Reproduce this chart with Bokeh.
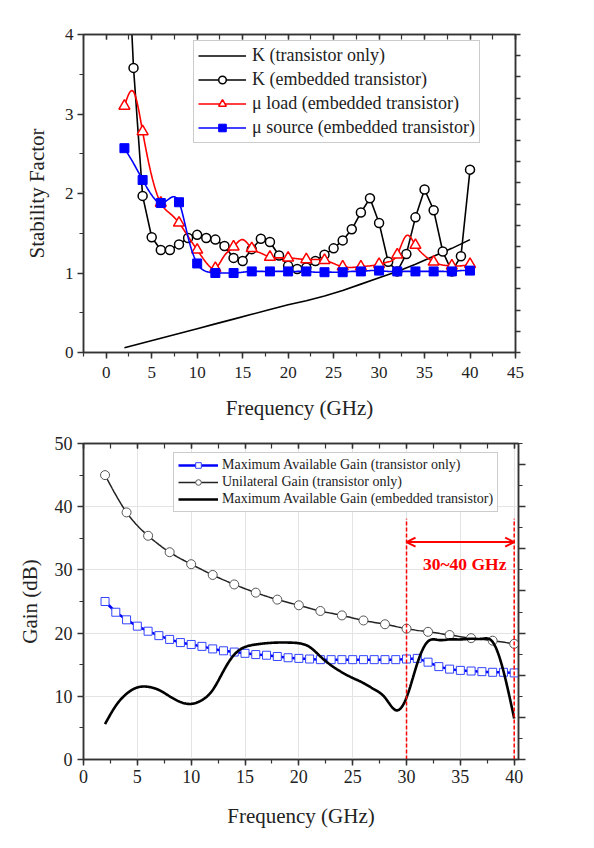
import numpy as np
from bokeh.plotting import figure
from bokeh.layouts import column
from bokeh.models import (Range1d, LinearAxis, SingleIntervalTicker, Legend, LegendItem,
                          Arrow, OpenHead, CustomJSTickFormatter)
from bokeh.core.properties import value
from bokeh.embed import file_html
from bokeh.resources import INLINE

# ---------------- data: top chart (stability factors) ----------------
freq_1ghz = list(range(2, 41))            # 2..40 GHz, 1 GHz step
k_transistor_freq = list(range(2, 41, 2))
k_transistor = [0.06, 0.12, 0.18, 0.24, 0.30, 0.36, 0.42, 0.48, 0.54, 0.60,
                0.65, 0.71, 0.78, 0.86, 0.94, 1.02, 1.11, 1.21, 1.31, 1.42]
k_embedded = [6.0, 3.58, 1.97, 1.45, 1.29, 1.29, 1.36, 1.44, 1.48, 1.44,
              1.42, 1.34, 1.19, 1.15, 1.30, 1.43, 1.39, 1.22, 1.09, 1.05,
              1.07, 1.15, 1.23, 1.31, 1.41, 1.55, 1.76, 1.94, 1.63, 1.14,
              1.02, 1.24, 1.70, 2.05, 1.79, 1.27, 1.02, 1.21, 2.30]
mu_load = [3.10, 3.28, 2.78, 2.22, 1.88, 1.75, 1.63, 1.46, 1.29, 1.13,
           1.06, 1.22, 1.33, 1.42, 1.31, 1.25, 1.20, 1.19, 1.19, 1.18,
           1.17, 1.17, 1.16, 1.12, 1.08, 1.07, 1.08, 1.09, 1.11, 1.14,
           1.23, 1.47, 1.35, 1.22, 1.14, 1.10, 1.09, 1.09, 1.11]
mu_source = [2.57, 2.38, 2.17, 1.98, 1.88, 1.94, 1.89, 1.45, 1.12, 1.02,
             1.00, 1.00, 1.00, 1.01, 1.02, 1.02, 1.02, 1.02, 1.02, 1.02,
             1.02, 1.01, 1.01, 1.01, 1.01, 1.02, 1.02, 1.03, 1.03, 1.02,
             1.02, 1.02, 1.02, 1.02, 1.02, 1.02, 1.02, 1.03, 1.03]

# ---------------- data: bottom chart (gains) ----------------
ug_freq = list(range(2, 41, 2))
unilateral_gain = [45.0, 39.1, 35.4, 32.8, 30.9, 29.2, 27.7, 26.4, 25.3, 24.4,
                   23.5, 22.8, 22.0, 21.4, 20.7, 20.2, 19.7, 19.2, 18.8, 18.3]
mag_transistor = [25.0, 23.3, 22.1, 21.1, 20.3, 19.6, 19.0, 18.5, 18.2, 17.9,
                  17.5, 17.2, 17.0, 16.8, 16.6, 16.5, 16.3, 16.1, 16.0, 15.9,
                  15.8, 15.8, 15.8, 15.8, 15.8, 15.8, 15.8, 15.8, 15.9, 16.0,
                  15.4, 14.7, 14.3, 14.1, 14.0, 13.9, 13.8, 13.8, 13.7]
mag_embedded = [5.6, 8.5, 10.4, 11.4, 11.5, 11.0, 10.0, 9.1, 8.8, 9.4,
                11.0, 14.0, 16.6, 17.8, 18.2, 18.4, 18.5, 18.5, 18.4, 17.8,
                16.3, 14.9, 13.8, 12.9, 12.1, 11.1, 9.8, 7.8, 9.8, 15.2,
                18.7, 18.9, 19.0, 19.0, 19.1, 19.1, 18.6, 14.0, 6.5]
band = [30, 40]
band_top = 38.1
arrow_level = 34.4
band_label = "30~40 GHz"
band_label_pos = (35.4, 30.9)

FONT = "Liberation Serif"
AX = "#333333"


def smooth(x, y, n=12):
    """Natural cubic spline used only to draw a smooth connecting line."""
    x = np.asarray(x, float)
    y = np.asarray(y, float)
    N = len(x)
    h = np.diff(x)
    A = np.zeros((N, N))
    b = np.zeros(N)
    A[0, 0] = 1
    A[-1, -1] = 1
    for i in range(1, N - 1):
        A[i, i - 1] = h[i - 1]
        A[i, i] = 2 * (h[i - 1] + h[i])
        A[i, i + 1] = h[i]
        b[i] = 6 * ((y[i + 1] - y[i]) / h[i] - (y[i] - y[i - 1]) / h[i - 1])
    M = np.linalg.solve(A, b)
    xs, ys = [], []
    for i in range(N - 1):
        t = np.linspace(x[i], x[i + 1], n, endpoint=(i == N - 2))
        a = x[i + 1] - t
        c = t - x[i]
        s = (M[i] * a ** 3 / (6 * h[i]) + M[i + 1] * c ** 3 / (6 * h[i])
             + (y[i] / h[i] - M[i] * h[i] / 6) * a
             + (y[i + 1] / h[i] - M[i + 1] * h[i] / 6) * c)
        xs.extend(t.tolist())
        ys.extend(s.tolist())
    return xs, ys


def style_axis(ax, size="17px"):
    ax.axis_line_color = AX
    ax.axis_line_width = 1.5
    ax.major_tick_line_color = AX
    ax.minor_tick_line_color = AX
    ax.major_tick_line_width = 1.5
    ax.minor_tick_line_width = 1.2
    ax.major_label_text_font = FONT
    ax.major_label_text_font_size = size
    ax.major_label_text_color = "#222222"
    ax.axis_label_text_font = FONT
    ax.axis_label_text_font_style = "normal"
    ax.axis_label_text_font_size = "21px"
    ax.axis_label_text_color = "#222222"


def blank_axis(ax):
    ax.formatter = CustomJSTickFormatter(code="return ''")
    ax.major_label_standoff = 0
    ax.axis_label = None


# ====================== TOP CHART ======================
p1 = figure(x_range=Range1d(-2.5, 45), y_range=Range1d(0, 4),
            frame_width=432, frame_height=318,
            min_border_left=82, min_border_top=34, min_border_right=76, min_border_bottom=71,
            output_backend="svg", toolbar_location=None,
            outline_line_color=AX, outline_line_width=1.5)
p1.grid.visible = False
p1.xaxis.ticker = SingleIntervalTicker(interval=5, num_minor_ticks=2)
p1.yaxis.ticker = SingleIntervalTicker(interval=1, num_minor_ticks=2)
for ax in (p1.xaxis[0], p1.yaxis[0]):
    style_axis(ax, "17px")
    ax.major_tick_in = 0
    ax.major_tick_out = 6
    ax.minor_tick_in = 0
    ax.minor_tick_out = 4
p1.xaxis.axis_label = "Frequency (GHz)"
p1.yaxis.axis_label = "Stability Factor"
p1.xaxis.major_label_standoff = 8
p1.xaxis.axis_label_standoff = 15
p1.yaxis.major_label_standoff = 4
p1.yaxis.axis_label_standoff = 13

top_ax = LinearAxis(ticker=SingleIntervalTicker(interval=5, num_minor_ticks=2))
style_axis(top_ax)
blank_axis(top_ax)
top_ax.major_tick_in = 5
top_ax.major_tick_out = 0
top_ax.minor_tick_in = 5
top_ax.minor_tick_out = 0
p1.add_layout(top_ax, "above")

p1.extra_y_ranges = {"r": Range1d(0, 7.5)}
right_ax = LinearAxis(y_range_name="r", ticker=SingleIntervalTicker(interval=0.5, num_minor_ticks=0))
style_axis(right_ax)
blank_axis(right_ax)
right_ax.major_tick_in = 0
right_ax.major_tick_out = 5
p1.add_layout(right_ax, "right")

r_kt = p1.line(k_transistor_freq, k_transistor, line_color="black", line_width=1.6)

r_ke_l = p1.line(freq_1ghz, k_embedded, line_color="black", line_width=1.6)
r_ke_m = p1.scatter(freq_1ghz, k_embedded, marker="circle", size=9,
                    fill_color="white", line_color="black", line_width=1.5)

sx, sy = smooth(freq_1ghz, mu_load)
r_ml_l = p1.line(sx, sy, line_color="#ff0000", line_width=1.6)
r_ml_m = p1.scatter(freq_1ghz[::2], mu_load[::2], marker="triangle", size=11,
                    fill_color="white", line_color="#ff0000", line_width=1.5)

sx, sy = smooth(freq_1ghz, mu_source)
r_ms_l = p1.line(sx, sy, line_color="#0000ff", line_width=1.6)
r_ms_m = p1.scatter(freq_1ghz[::2], mu_source[::2], marker="square", size=9,
                    fill_color="#0000ff", line_color="#0000ff", line_width=1)

leg1 = Legend(items=[
    LegendItem(label="K (transistor only)", renderers=[r_kt]),
    LegendItem(label="K (embedded transistor)", renderers=[r_ke_l, r_ke_m]),
    LegendItem(label="\u03bc load (embedded transistor)", renderers=[r_ml_l, r_ml_m]),
    LegendItem(label="\u03bc source (embedded transistor)", renderers=[r_ms_l, r_ms_m]),
], location=(110, 209))
leg1.label_text_font = FONT
leg1.label_text_font_size = "18px"
leg1.label_text_color = "#222222"
leg1.glyph_width = 48
leg1.glyph_height = 19
leg1.label_height = 19
leg1.spacing = 3
leg1.padding = 4
leg1.margin = 0
leg1.label_standoff = 6
leg1.border_line_color = "#999999"
leg1.border_line_width = 1.2
p1.add_layout(leg1)

# ====================== BOTTOM CHART ======================
p2 = figure(x_range=Range1d(0, 40.4), y_range=Range1d(0, 50),
            frame_width=435, frame_height=316,
            min_border_left=83, min_border_top=20, min_border_right=70, min_border_bottom=85,
            output_backend="svg", toolbar_location=None,
            outline_line_color=AX, outline_line_width=1.5)
p2.xaxis.ticker = SingleIntervalTicker(interval=5, num_minor_ticks=2)
p2.yaxis.ticker = SingleIntervalTicker(interval=10, num_minor_ticks=2)
p2.xgrid.ticker = SingleIntervalTicker(interval=5)
p2.ygrid.ticker = SingleIntervalTicker(interval=10)
p2.grid.grid_line_color = "#e4e4e4"
p2.grid.grid_line_width = 1
for ax in (p2.xaxis[0], p2.yaxis[0]):
    style_axis(ax, "18px")
    ax.major_tick_in = 0
    ax.major_tick_out = 6
    ax.minor_tick_in = 0
    ax.minor_tick_out = 4
p2.xaxis.axis_label = "Frequency (GHz)"
p2.yaxis.axis_label = "Gain (dB)"
p2.xaxis.major_label_standoff = 4
p2.xaxis.axis_label_standoff = 18
p2.yaxis.major_label_standoff = 5
p2.yaxis.axis_label_standoff = 10

top_ax2 = LinearAxis(ticker=SingleIntervalTicker(interval=5, num_minor_ticks=2))
style_axis(top_ax2)
blank_axis(top_ax2)
top_ax2.major_tick_in = 5
top_ax2.major_tick_out = 0
top_ax2.minor_tick_in = 5
top_ax2.minor_tick_out = 0
p2.add_layout(top_ax2, "above")

p2.extra_y_ranges = {"r": Range1d(0, 7.5)}
right_ax2 = LinearAxis(y_range_name="r", ticker=SingleIntervalTicker(interval=1, num_minor_ticks=2))
style_axis(right_ax2)
blank_axis(right_ax2)
right_ax2.major_tick_in = 0
right_ax2.major_tick_out = 7
right_ax2.minor_tick_in = 0
right_ax2.minor_tick_out = 4
p2.add_layout(right_ax2, "right")

r_mt_l = p2.line(freq_1ghz, mag_transistor, line_color="#0000ff", line_width=2.5)
r_mt_m = p2.scatter(freq_1ghz, mag_transistor, marker="square", size=8,
                    fill_color="white", line_color="#3344ff", line_width=1)

sx, sy = smooth(ug_freq, unilateral_gain)
r_ug_l = p2.line(sx, sy, line_color="#222222", line_width=1.5)
r_ug_m = p2.scatter(ug_freq, unilateral_gain, marker="circle", size=9,
                    fill_color="white", line_color="#555555", line_width=1)

sx, sy = smooth(freq_1ghz, mag_embedded)
r_me = p2.line(sx, sy, line_color="black", line_width=2.6)

p2.segment(x0=band, y0=[0, 0], x1=band, y1=[band_top, band_top],
           line_color="#ff0000", line_width=1.5, line_dash="4 2")
p2.add_layout(Arrow(start=OpenHead(size=9, line_color="#ff0000", line_width=2),
                    end=OpenHead(size=9, line_color="#ff0000", line_width=2),
                    x_start=band[0], y_start=arrow_level, x_end=band[1], y_end=arrow_level,
                    line_color="#ff0000", line_width=2))
p2.text(x=[band_label_pos[0]], y=[band_label_pos[1]], text=[band_label],
        text_font=value(FONT), text_font_size="17.5px", text_font_style="bold",
        text_color="#ff0000", text_align="center", text_baseline="middle")

leg2 = Legend(items=[
    LegendItem(label="Maximum Available Gain (transistor only)", renderers=[r_mt_l, r_mt_m]),
    LegendItem(label="Unilateral Gain (transistor only)", renderers=[r_ug_l, r_ug_m]),
    LegendItem(label="Maximum Available Gain (embedded transistor)", renderers=[r_me]),
], location=(90, 247))
leg2.label_text_font = FONT
leg2.label_text_font_size = "14px"
leg2.label_text_color = "#222222"
leg2.glyph_width = 40
leg2.glyph_height = 14
leg2.label_height = 14
leg2.spacing = 1
leg2.padding = 4
leg2.margin = 0
leg2.label_standoff = 4
leg2.border_line_color = "#999999"
leg2.border_line_width = 1.2
p2.add_layout(leg2)

layout = column(p1, p2)
open("out.html", "w").write(file_html(layout, INLINE))
